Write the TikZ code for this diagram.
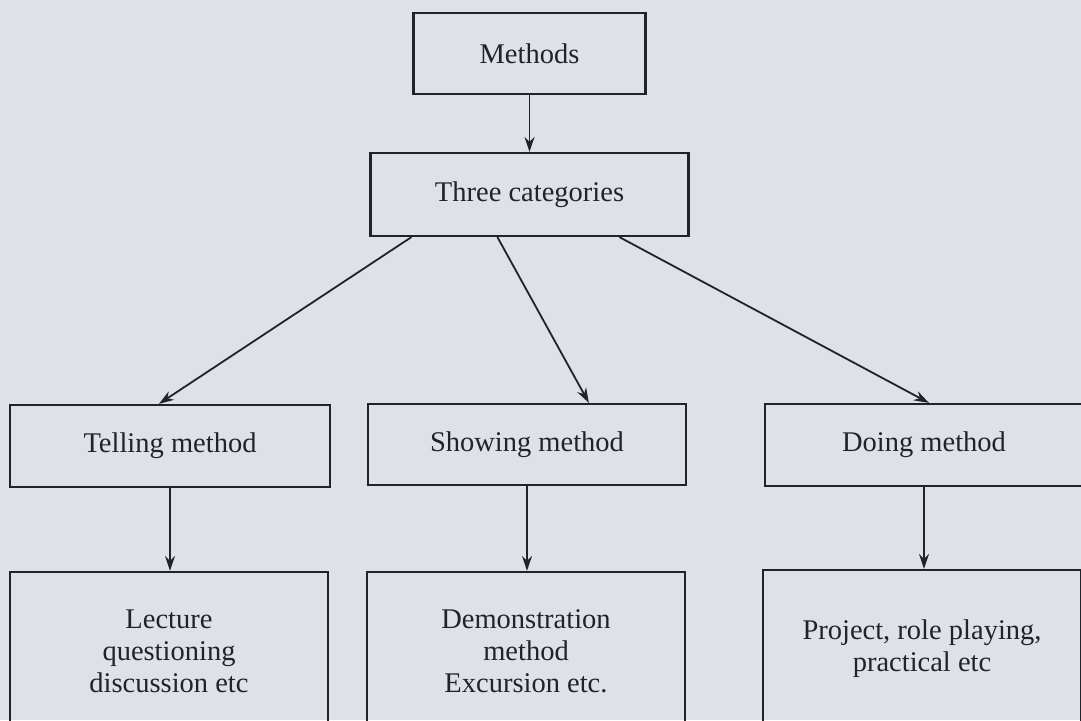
\documentclass[tikz,border=0pt]{standalone}
\usepackage{fontspec}
\setmainfont{Liberation Serif}
\usetikzlibrary{arrows.meta,calc}
\definecolor{paper}{RGB}{224,225,232}
\definecolor{ink}{RGB}{34,34,42}
\begin{document}
\begin{tikzpicture}[x=1pt,y=-1pt,
  box/.style={draw=ink,line width=2.2pt,text=ink,align=center,inner sep=0pt,
    font=\fontsize{28.5}{32}\selectfont},
  conn/.style={draw=ink,line width=1.8pt,-{Stealth[length=15pt,width=10pt]}}]
\useasboundingbox[fill=paper] (0,0) rectangle (1081,720);
\node[box,minimum width=232pt,minimum height=81pt] (m) at (529.5,53.5) {Methods};
\node[box,minimum width=318pt,minimum height=83pt] (tc) at (529.5,194.5) {Three categories};
\node[box,minimum width=320pt,minimum height=82pt] (tl) at (170,446) {Telling method};
\node[box,minimum width=318pt,minimum height=81pt] (sh) at (527,444.5) {Showing method};
\node[box,minimum width=318pt,minimum height=82pt] (dm) at (924,445) {Doing method};
\node[box,minimum width=318pt,minimum height=158pt] (lec) at (169,651) {Lecture\\questioning\\discussion etc};
\node[box,minimum width=318pt,minimum height=158pt] (dem) at (526,651) {Demonstration\\method\\Excursion etc.};
\node[box,minimum width=318pt,minimum height=158pt] (prj) at (922,649) {Project, role playing,\\practical etc};
\draw[conn] (m.south) -- (tc.north);
\draw[conn] ([xshift=42pt]tc.south west) -- ([xshift=150pt]tl.north west);
\draw[conn] ([xshift=128pt]tc.south west) -- ([xshift=222pt]sh.north west);
\draw[conn] ([xshift=250pt]tc.south west) -- ([xshift=165pt]dm.north west);
\draw[conn] (tl.south) -- (tl.south |- lec.north);
\draw[conn] (sh.south) -- (sh.south |- dem.north);
\draw[conn] (dm.south) -- (dm.south |- prj.north);
\end{tikzpicture}
\end{document}
